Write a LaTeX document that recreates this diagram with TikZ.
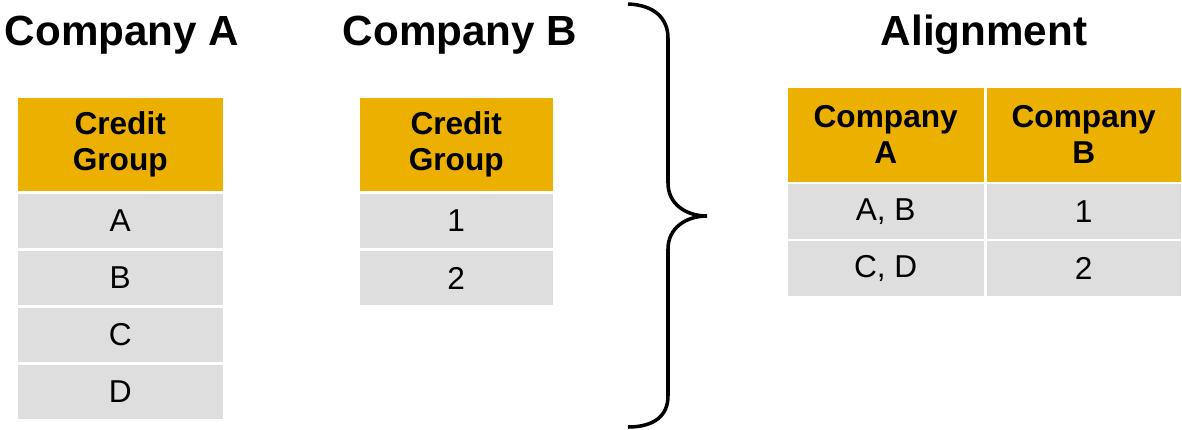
\documentclass[tikz,border=0pt]{standalone}
\usepackage{fontspec}
\setmainfont{Liberation Sans}
\usetikzlibrary{calc}
\definecolor{headgold}{RGB}{235,176,0}
\definecolor{cellgrey}{RGB}{222,222,222}
\tikzset{
  headcell/.style={fill=headgold, anchor=north west, inner sep=0pt, align=center,
    font=\fontsize{9}{10.3}\selectfont\bfseries},
  bodycell/.style={fill=cellgrey, anchor=north west, inner sep=0pt,
    font=\fontsize{9}{10.3}\selectfont},
  tabletitle/.style={anchor=base, font=\fontsize{12}{14}\selectfont\bfseries}
}

\begin{document}
\begin{tikzpicture}
  \useasboundingbox (0,0) rectangle (11.82,-4.29);

  % Row sizes
  \def\headh{0.93}
  \def\rowh{0.545}
  \def\rowpitch{0.57}

  % Titles
  \node[tabletitle] (titleA) at (1.22,-0.45) {Company A};
  \node[tabletitle] (titleB) at (4.60,-0.45) {Company B};
  \node[tabletitle] (titleAl) at (9.84,-0.45) {Alignment};

  % Company A: credit groups
  \node[headcell, minimum width=2.05cm, minimum height=\headh cm] (headA) at (0.17,-0.97) {Credit\\Group};
  \foreach \grp [count=\i] in {A,B,C,D} {
    \node[bodycell, minimum width=2.05cm, minimum height=\rowh cm] (rowA\i) at (0.17,{-1.93-(\i-1)*\rowpitch}) {\grp};
  }

  % Company B: credit groups
  \node[headcell, minimum width=1.93cm, minimum height=\headh cm] (headB) at (3.59,-0.97) {Credit\\Group};
  \foreach \grp [count=\i] in {1,2} {
    \node[bodycell, minimum width=1.93cm, minimum height=\rowh cm] (rowB\i) at (3.59,{-1.93-(\i-1)*\rowpitch}) {\grp};
  }

  % Brace pointing to the alignment table
  \draw[line width=1pt]
    (6.28,-0.04) .. controls (6.55,-0.05) and (6.68,-0.19) .. (6.68,-0.38)
    -- (6.68,-1.83) .. controls (6.68,-2.04) and (6.86,-2.16) .. (7.07,-2.16)
    .. controls (6.86,-2.16) and (6.68,-2.28) .. (6.68,-2.49)
    -- (6.68,-3.96) .. controls (6.68,-4.15) and (6.55,-4.27) .. (6.28,-4.27);

  % Alignment table
  \node[headcell, minimum width=1.96cm, minimum height=0.94cm] (headAlA) at (7.87,-0.87) {Company\\A};
  \node[headcell, minimum width=1.94cm, minimum height=0.94cm] (headAlB) at (9.86,-0.87) {Company\\B};
  \foreach \grp/\num [count=\i] in {{A, B}/1, {C, D}/2} {
    \node[bodycell, minimum width=1.96cm, minimum height=0.55cm] (rowAlA\i) at (7.87,{-1.83-(\i-1)*0.575}) {\grp};
    \node[bodycell, minimum width=1.94cm, minimum height=0.55cm] (rowAlB\i) at (9.86,{-1.83-(\i-1)*0.575}) {\num};
  }
\end{tikzpicture}
\end{document}
